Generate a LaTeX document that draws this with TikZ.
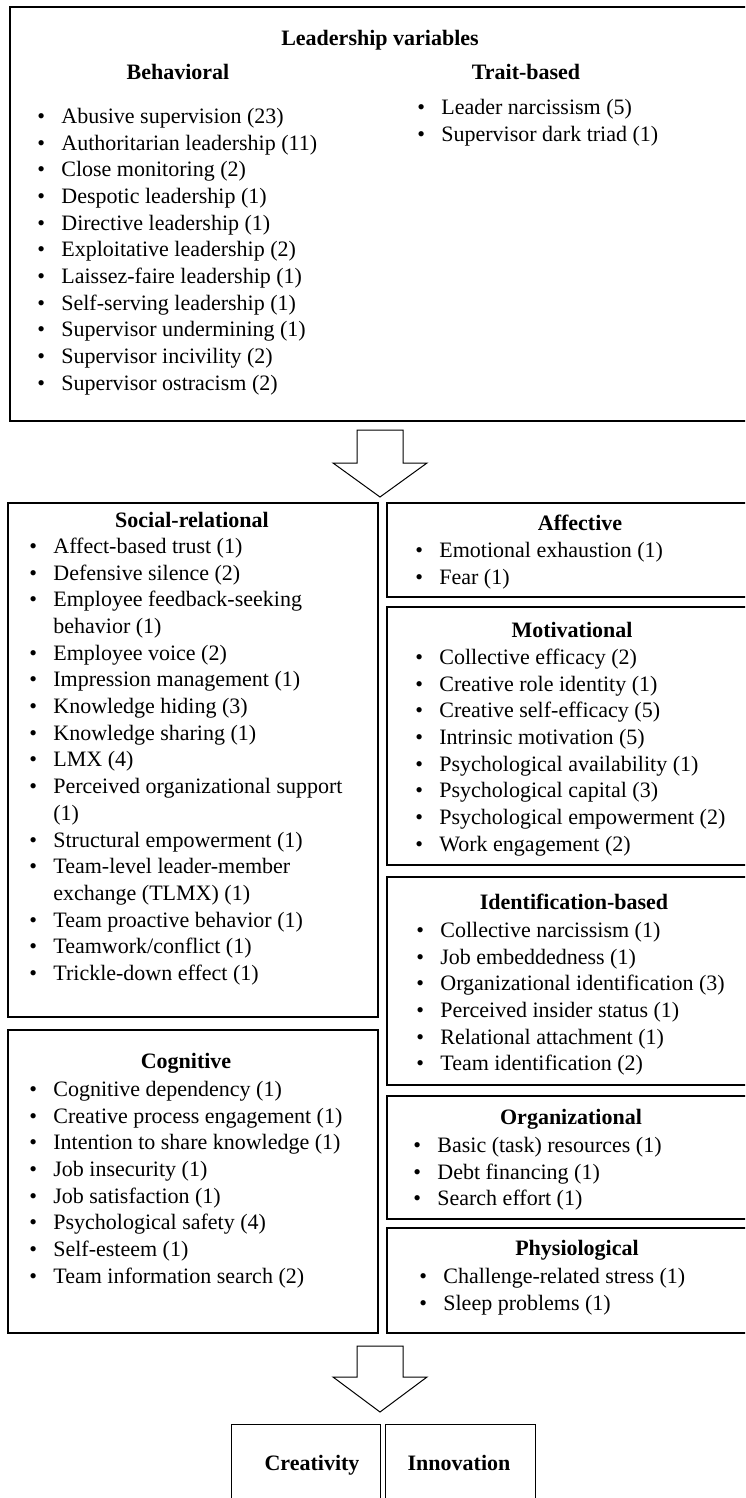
\documentclass[tikz,border=0pt]{standalone}
\usepackage{fontspec}
\setmainfont{Liberation Serif}
\usepackage{tikz}
\usetikzlibrary{positioning}

\newenvironment{blist}{\begin{tabular}{@{}p{12pt}@{}l@{}}}{\end{tabular}}
\newcommand{\itm}[1]{\textbullet & #1\\}
\newcommand{\cnt}[1]{& #1\\}

\begin{document}
\begin{tikzpicture}[x=0.5pt,y=-0.5pt,
 every node/.style={font=\fontsize{11}{13.35}\selectfont},
 cbox/.style={draw,line width=0.75pt,inner sep=0pt,anchor=north west},
 ttl/.style={anchor=base,font=\fontsize{11}{13.35}\selectfont\bfseries},
 lst/.style={anchor=north west,inner sep=0pt},
 hollow/.style={draw,line width=0.5pt,line join=miter}]
\path[use as bounding box,fill=white] (0,0) rectangle (745,1498);
\clip (0,0) rectangle (745,1498);

% leadership variables
\node[cbox,line width=1pt,minimum width=371.5pt,minimum height=207pt] (lead) at (9,6) {};
\node[ttl] (leadT) at (380,46) {Leadership variables};
\node[ttl] (behT) at (178,80) {Behavioral};
\node[ttl] (traitT) at (526,80) {Trait-based};
\node[lst] (behL) at (37,104.3) {\begin{blist}
\itm{Abusive supervision (23)}
\itm{Authoritarian leadership (11)}
\itm{Close monitoring (2)}
\itm{Despotic leadership (1)}
\itm{Directive leadership (1)}
\itm{Exploitative leadership (2)}
\itm{Laissez-faire leadership (1)}
\itm{Self-serving leadership (1)}
\itm{Supervisor undermining (1)}
\itm{Supervisor incivility (2)}
\itm{Supervisor ostracism (2)}
\end{blist}};
\node[lst] (traitL) at (417,95.3) {\begin{blist}
\itm{Leader narcissism (5)}
\itm{Supervisor dark triad (1)}
\end{blist}};

% mechanisms
\node[cbox,minimum width=185pt,minimum height=257pt] (social) at (7,502) {};
\node[cbox,minimum width=185pt,minimum height=151.5pt] (cogn) at (7,1029) {};
\node[cbox,minimum width=189.5pt,minimum height=47pt] (affect) at (386,502) {};
\node[cbox,minimum width=189.5pt,minimum height=129pt] (motiv) at (386,606) {};
\node[cbox,minimum width=189.5pt,minimum height=104pt] (ident) at (386,876) {};
\node[cbox,minimum width=189.5pt,minimum height=61.5pt] (orgn) at (386,1095) {};
\node[cbox,minimum width=189.5pt,minimum height=52.5pt] (physio) at (386,1227) {};

\node[ttl] (socialT) at (192,527) {Social-relational};
\node[lst] (socialL) at (29,534.3) {\begin{blist}
\itm{Affect-based trust (1)}
\itm{Defensive silence (2)}
\itm{Employee feedback-seeking}
\cnt{behavior (1)}
\itm{Employee voice (2)}
\itm{Impression management (1)}
\itm{Knowledge hiding (3)}
\itm{Knowledge sharing (1)}
\itm{LMX (4)}
\itm{Perceived organizational support}
\cnt{(1)}
\itm{Structural empowerment (1)}
\itm{Team-level leader-member}
\cnt{exchange (TLMX) (1)}
\itm{Team proactive behavior (1)}
\itm{Teamwork/conflict (1)}
\itm{Trickle-down effect (1)}
\end{blist}};

\node[ttl] (cognT) at (186,1068) {Cognitive};
\node[lst] (cognL) at (29,1077.3) {\begin{blist}
\itm{Cognitive dependency (1)}
\itm{Creative process engagement (1)}
\itm{Intention to share knowledge (1)}
\itm{Job insecurity (1)}
\itm{Job satisfaction (1)}
\itm{Psychological safety (4)}
\itm{Self-esteem (1)}
\itm{Team information search (2)}
\end{blist}};

\node[ttl] (affectT) at (580,530) {Affective};
\node[lst] (affectL) at (415,538.3) {\begin{blist}
\itm{Emotional exhaustion (1)}
\itm{Fear (1)}
\end{blist}};

\node[ttl] (motivT) at (572,637) {Motivational};
\node[lst] (motivL) at (415,645.3) {\begin{blist}
\itm{Collective efficacy (2)}
\itm{Creative role identity (1)}
\itm{Creative self-efficacy (5)}
\itm{Intrinsic motivation (5)}
\itm{Psychological availability (1)}
\itm{Psychological capital (3)}
\itm{Psychological empowerment (2)}
\itm{Work engagement (2)}
\end{blist}};

\node[ttl] (identT) at (574,909) {Identification-based};
\node[lst] (identL) at (416,918.3) {\begin{blist}
\itm{Collective narcissism (1)}
\itm{Job embeddedness (1)}
\itm{Organizational identification (3)}
\itm{Perceived insider status (1)}
\itm{Relational attachment (1)}
\itm{Team identification (2)}
\end{blist}};

\node[ttl] (orgnT) at (571,1124) {Organizational};
\node[lst] (orgnL) at (413,1133.3) {\begin{blist}
\itm{Basic (task) resources (1)}
\itm{Debt financing (1)}
\itm{Search effort (1)}
\end{blist}};

\node[ttl] (physioT) at (577,1255) {Physiological};
\node[lst] (physioL) at (419,1264.3) {\begin{blist}
\itm{Challenge-related stress (1)}
\itm{Sleep problems (1)}
\end{blist}};

% outcomes
\node[cbox,line width=0.5pt,minimum width=74.5pt,minimum height=53pt] (creat) at (231,1424) {};
\node[cbox,line width=0.5pt,minimum width=75pt,minimum height=53pt] (innov) at (385,1424) {};
\node[ttl] (creatT) at (312,1470) {Creativity};
\node[ttl] (innovT) at (459,1470) {Innovation};

% block arrows
\coordinate (tip1) at (380,497);
\coordinate (tip2) at (380,1412);
\draw[hollow,shift={(tip1)}] (-23,-67) -- (23,-67) -- (23,-34) -- (47,-34) -- (0,0) -- (-47,-34) -- (-23,-34) -- cycle;
\draw[hollow,shift={(tip2)}] (-23,-66) -- (23,-66) -- (23,-35) -- (47,-35) -- (0,0) -- (-47,-35) -- (-23,-35) -- cycle;
\end{tikzpicture}
\end{document}
